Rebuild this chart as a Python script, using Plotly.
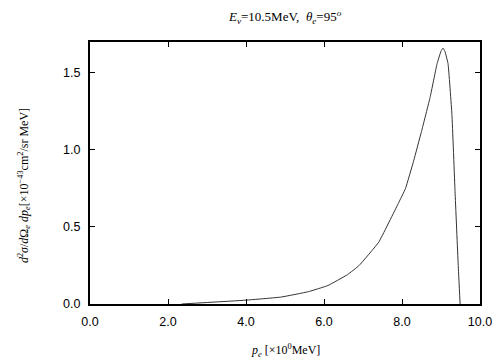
import plotly.graph_objects as go

p_e = [2.35, 4.0, 4.9, 5.6, 6.1, 6.6, 6.9, 7.4, 7.9, 8.09, 8.3, 8.5, 8.72, 8.9, 9.0, 9.05, 9.1, 9.18, 9.28, 9.36, 9.44, 9.49]
dsigma = [0.0, 0.025, 0.045, 0.08, 0.12, 0.19, 0.25, 0.40, 0.65, 0.75, 0.93, 1.12, 1.34, 1.56, 1.64, 1.66, 1.64, 1.56, 1.23, 0.73, 0.26, 0.0]

x_ticks = [0, 2, 4, 6, 8, 10]
x_tick_labels = ["0.0", "2.0", "4.0", "6.0", "8.0", "10.0"]
y_ticks = [0, 0.5, 1.0, 1.5]
y_tick_labels = ["0.0", "0.5", "1.0", "1.5"]

serif = "Liberation Serif, Times New Roman, serif"
sans = "Liberation Sans, Arial, sans-serif"

fig = go.Figure()
fig.add_trace(go.Scatter(x=p_e, y=dsigma, mode="lines", line=dict(color="#333333", width=1, shape="spline", smoothing=0.3), showlegend=False, hoverinfo="skip"))

axis_common = dict(showline=True, linecolor="black", linewidth=2, mirror="ticks", ticks="inside", ticklen=5, tickcolor="black", tickwidth=1, showgrid=False, zeroline=False, tickfont=dict(family=sans, size=12.5, color="black"))

fig.update_layout(
    width=496, height=352,
    margin=dict(l=82, r=16, t=34, b=56),
    paper_bgcolor="white", plot_bgcolor="white",
    xaxis=dict(range=[0, 10], tickvals=x_ticks, ticktext=x_tick_labels, ticklabelstandoff=5, **axis_common),
    yaxis=dict(range=[0, 1.7], tickvals=y_ticks, ticktext=y_tick_labels, ticklabelstandoff=5, **axis_common),
    annotations=[
        dict(text="<i>E</i><sub><i>ν</i></sub>=10.5MeV,  <i>θ</i><sub><i>e</i></sub>=95<sup><i>o</i></sup>", xref="paper", yref="paper", x=0.5, y=1, yshift=25, showarrow=False, font=dict(family=serif, size=13, color="black"), xanchor="center", yanchor="middle"),
        dict(text="<i>p</i><sub><i>e</i></sub> [×10<sup>0</sup>MeV]", xref="paper", yref="paper", x=0.5, y=0, yshift=-46, showarrow=False, font=dict(family=serif, size=12, color="black"), xanchor="center", yanchor="middle"),
        dict(text="<i>d</i><sup>2</sup><i>σ</i>/<i>d</i>Ω<sub><i>e</i></sub> <i>dp</i><sub><i>e</i></sub>[×10<sup>−43</sup>cm<sup>2</sup>/sr MeV]", xref="paper", yref="paper", x=0, y=0.45, xshift=-66, showarrow=False, textangle=-90, font=dict(family=serif, size=12, color="black"), xanchor="center", yanchor="middle"),
    ],
)

fig.write_html("out.html")
